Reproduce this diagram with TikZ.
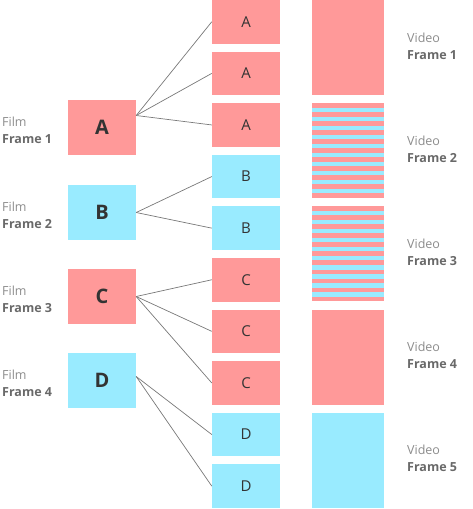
\documentclass[tikz,border=0pt]{standalone}
\usepackage{fontspec}
\setmainfont{Open Sans}
\usepackage{tikz}

\definecolor{filmpink}{RGB}{255,153,153}
\definecolor{filmcyan}{RGB}{153,235,255}
\definecolor{inkdark}{RGB}{51,51,51}
\definecolor{linkgray}{RGB}{120,120,120}
\definecolor{labellight}{RGB}{140,140,140}
\definecolor{labeldark}{RGB}{105,105,105}

\tikzset{
  filmbox/.style={minimum width=68pt, minimum height=55pt, inner sep=0pt,
    text=inkdark, font=\fontsize{20}{20}\selectfont\bfseries},
  fieldbox/.style={minimum width=68pt, minimum height=43.5pt, inner sep=0pt,
    text=inkdark, font=\fontsize{15}{15}\selectfont},
  framebox/.style={minimum width=72pt, minimum height=95pt, inner sep=0pt},
  framelabel/.style={anchor=west, inner sep=0pt, align=left,
    font=\fontsize{12.5}{17}\selectfont},
  link/.style={draw=linkgray, line width=0.7pt},
}

\begin{document}
\begin{tikzpicture}[x=1pt,y=-1pt]
    \useasboundingbox (0,0) rectangle (472,509);
    % Film frames
    \node[filmbox, fill=filmpink] (filmA) at (102,127.5) {A};
    \node[filmbox, fill=filmcyan] (filmB) at (102,212.5) {B};
    \node[filmbox, fill=filmpink] (filmC) at (102,296.5) {C};
    \node[filmbox, fill=filmcyan] (filmD) at (102,380.5) {D};
    % Film labels
    \node[framelabel] (labA) at (2,130) {\textcolor{labellight}{Film}\\\textcolor{labeldark}{\bfseries Frame 1}};
    \node[framelabel] (labB) at (2,215) {\textcolor{labellight}{Film}\\\textcolor{labeldark}{\bfseries Frame 2}};
    \node[framelabel] (labC) at (2,299) {\textcolor{labellight}{Film}\\\textcolor{labeldark}{\bfseries Frame 3}};
    \node[framelabel] (labD) at (2,383) {\textcolor{labellight}{Film}\\\textcolor{labeldark}{\bfseries Frame 4}};
    % Fields (pulldown)
    \node[fieldbox, fill=filmpink] (fieldA1) at (246,21.75) {A};
    \node[fieldbox, fill=filmpink] (fieldA2) at (246,73.35) {A};
    \node[fieldbox, fill=filmpink] (fieldA3) at (246,124.95) {A};
    \node[fieldbox, fill=filmcyan] (fieldB1) at (246,176.55) {B};
    \node[fieldbox, fill=filmcyan] (fieldB2) at (246,228.15) {B};
    \node[fieldbox, fill=filmpink] (fieldC1) at (246,279.75) {C};
    \node[fieldbox, fill=filmpink] (fieldC2) at (246,331.35) {C};
    \node[fieldbox, fill=filmpink] (fieldC3) at (246,382.95) {C};
    \node[fieldbox, fill=filmcyan] (fieldD1) at (246,434.55) {D};
    \node[fieldbox, fill=filmcyan] (fieldD2) at (246,486.15) {D};
    % Video frames
    \node[framebox, fill=filmpink] (video1) at (348,47.5) {};
    \node[framebox, fill=filmpink] (video2) at (348,150.7) {};
    \node[framebox, fill=filmpink] (video3) at (348,253.9) {};
    \node[framebox, fill=filmpink] (video4) at (348,357.1) {};
    \node[framebox, fill=filmcyan] (video5) at (348,460.3) {};
    % Interlaced stripes
    \foreach \vid in {video2,video3}
      \foreach \k in {1,3,...,19}
        \fill[filmcyan] ([yshift=-\k*95/21 pt]\vid.north west) rectangle
          ([yshift=-\k*95/21 pt - 95/21 pt]\vid.north east);
    % Video labels
    \node[framelabel] (vlab1) at (407,46) {\textcolor{labellight}{Video}\\\textcolor{labeldark}{\bfseries Frame 1}};
    \node[framelabel] (vlab2) at (407,149) {\textcolor{labellight}{Video}\\\textcolor{labeldark}{\bfseries Frame 2}};
    \node[framelabel] (vlab3) at (407,252) {\textcolor{labellight}{Video}\\\textcolor{labeldark}{\bfseries Frame 3}};
    \node[framelabel] (vlab4) at (407,355) {\textcolor{labellight}{Video}\\\textcolor{labeldark}{\bfseries Frame 4}};
    \node[framelabel] (vlab5) at (407,458) {\textcolor{labellight}{Video}\\\textcolor{labeldark}{\bfseries Frame 5}};
    % Pulldown links
    \draw[link] ([yshift=12pt]filmA.east) -- (fieldA1.west);
    \draw[link] ([yshift=12pt]filmA.east) -- (fieldA2.west);
    \draw[link] ([yshift=12pt]filmA.east) -- (fieldA3.west);
    \draw[link] (filmB.east) -- (fieldB1.west);
    \draw[link] (filmB.east) -- (fieldB2.west);
    \draw[link] (filmC.east) -- (fieldC1.west);
    \draw[link] (filmC.east) -- (fieldC2.west);
    \draw[link] (filmC.east) -- (fieldC3.west);
    \draw[link] ([yshift=4pt]filmD.east) -- (fieldD1.west);
    \draw[link] ([yshift=4pt]filmD.east) -- (fieldD2.west);
\end{tikzpicture}
\end{document}
